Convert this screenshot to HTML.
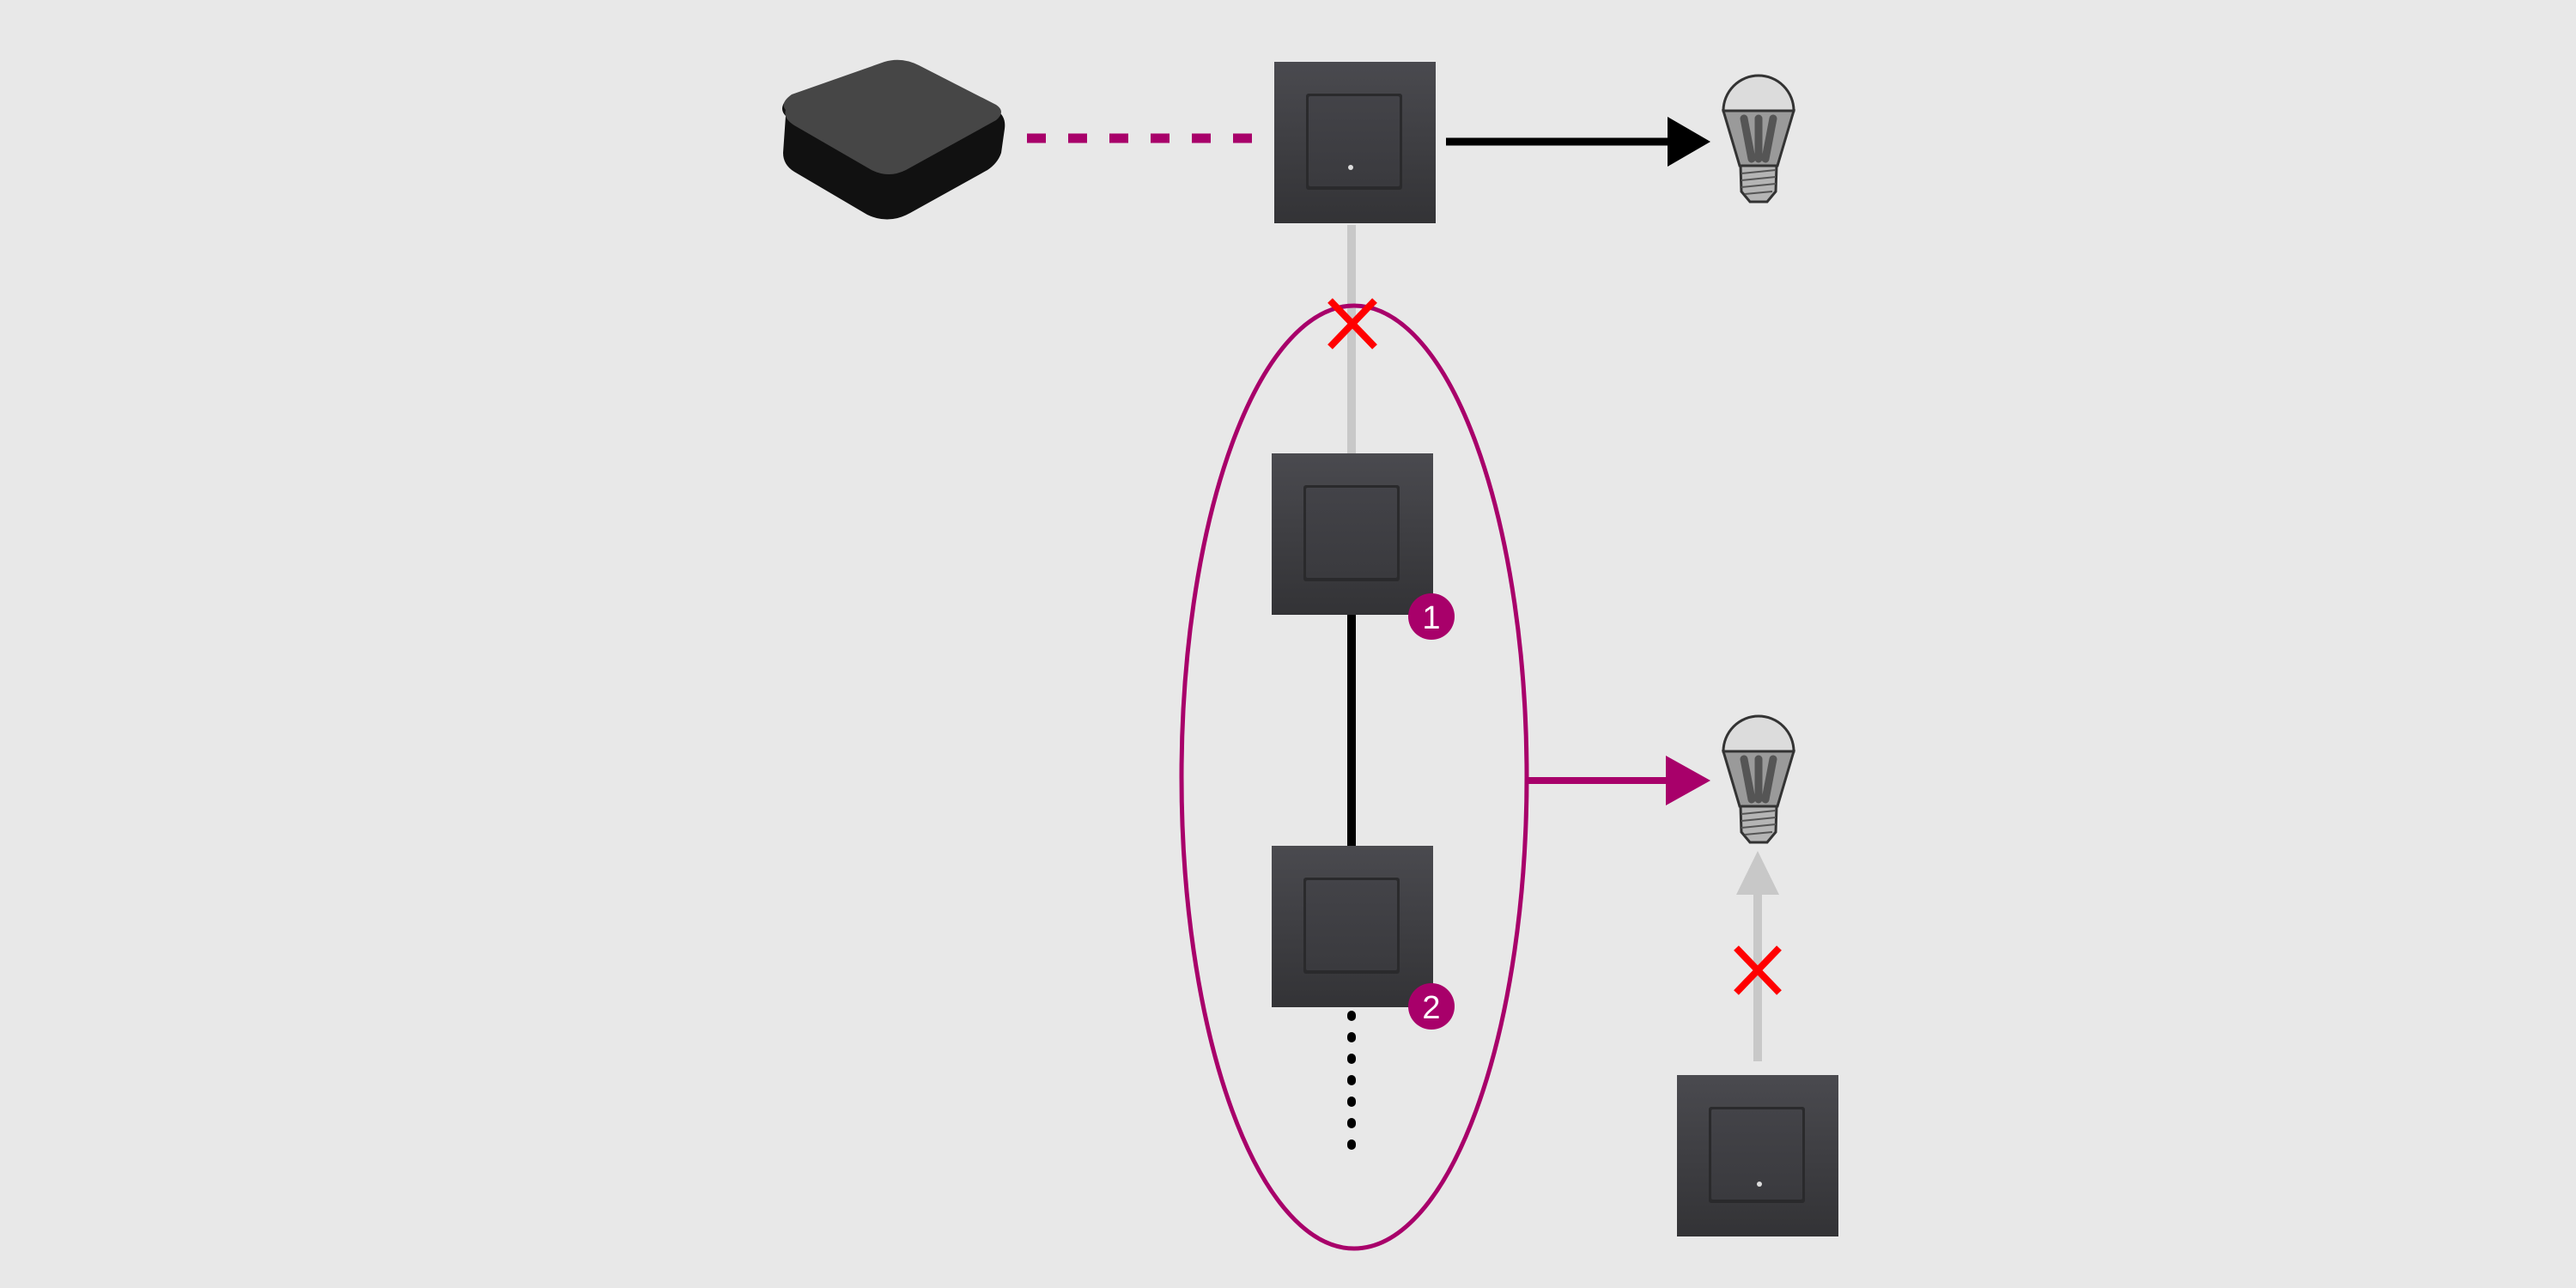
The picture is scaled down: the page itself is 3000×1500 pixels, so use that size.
<!DOCTYPE html>
<html><head><meta charset="utf-8"><style>
html,body{margin:0;padding:0;background:#e8e8e8;}
svg{display:block;}
</style></head><body>
<svg width="3000" height="1500" viewBox="0 0 3000 1500" xmlns="http://www.w3.org/2000/svg">
<defs>
<linearGradient id="plate" x1="0" y1="0" x2="0" y2="1">
<stop offset="0" stop-color="#4a4a4f"/><stop offset="1" stop-color="#333336"/>
</linearGradient>
<linearGradient id="rock" x1="0" y1="0" x2="0" y2="1">
<stop offset="0" stop-color="#434348"/><stop offset="1" stop-color="#3a3a3e"/>
</linearGradient>
<g id="bulb">
<path d="M-41,41 A41,41 0 0 1 41,41 Z" fill="#dcdcdc" stroke="#333" stroke-width="3"/>
<path d="M-41,41 L41,41 L22,105 L-22,105 Z" fill="#9a9a9a" stroke="#333" stroke-width="3"/>
<path d="M-17,50 L-8,97 M0,50 L0,97 M17,50 L8,97" stroke="#555" stroke-width="9" stroke-linecap="round"/>
<path d="M-21,105 L21,105 L20,135 L10,147 L-10,147 L-20,135 Z" fill="#b5b5b5" stroke="#333" stroke-width="3"/>
<path d="M-20,114 L20,110 M-20,122 L20,118 M-20,130 L20,126 M-16,138 L16,135" stroke="#555" stroke-width="2"/>
</g>
<g id="switch">
<rect x="0" y="0" width="188" height="188" fill="url(#plate)"/>
<rect x="37" y="37" width="112" height="112" rx="3" fill="#2a2a2c"/>
<rect x="40" y="40" width="106" height="105" rx="2" fill="url(#rock)"/>
</g>
</defs>
<rect width="3000" height="1500" fill="#e8e8e8"/>

<!-- hub -->
<g>
<path d="M915,135 Q905,125 920,112 L1030,74 Q1050,68 1070,78 L1160,128 Q1172,135 1170,150 L1166,178 Q1162,190 1150,198 L1060,248 Q1035,262 1010,250 L925,200 Q912,192 912,178 Z" fill="#111"/>
<path d="M915,128 Q908,120 922,110 L1030,72 Q1050,66 1070,76 L1160,122 Q1172,130 1160,140 L1055,198 Q1035,208 1015,198 L925,146 Q912,138 915,128 Z" fill="#464646"/>
</g>
<!-- dashed magenta -->
<line x1="1196" y1="161" x2="1464" y2="161" stroke="#a8006a" stroke-width="11" stroke-dasharray="22,26"/>

<!-- top switch -->
<use href="#switch" x="1484" y="72"/>
<circle cx="1573" cy="195" r="3" fill="#ddd"/>
<!-- black arrow -->
<line x1="1684" y1="165" x2="1950" y2="165" stroke="#000" stroke-width="9"/>
<polygon points="1942,136 1992,165 1942,194" fill="#000"/>
<use href="#bulb" x="2048" y="88"/>

<!-- grey line to switch 1 -->
<line x1="1574" y1="262" x2="1574" y2="528" stroke="#c8c8c8" stroke-width="10"/>
<!-- ellipse -->
<ellipse cx="1577" cy="905" rx="201" ry="549" fill="none" stroke="#a8006a" stroke-width="5"/>
<!-- red X top -->
<path d="M1549,350 L1601,404 M1601,350 L1549,404" stroke="#ff0000" stroke-width="8"/>

<!-- switch 1 -->
<use href="#switch" x="1481" y="528"/>
<line x1="1574" y1="716" x2="1574" y2="985" stroke="#000" stroke-width="10"/>
<circle cx="1667" cy="718" r="27" fill="#a8006a"/>
<text x="1667" y="732" font-family="Liberation Sans, sans-serif" font-size="38" fill="#fff" text-anchor="middle">1</text>

<!-- switch 2 -->
<use href="#switch" x="1481" y="985"/>
<line x1="1574" y1="1182" x2="1574" y2="1352" stroke="#000" stroke-width="10" stroke-linecap="round" stroke-dasharray="2,23"/>
<circle cx="1667" cy="1172" r="27" fill="#a8006a"/>
<text x="1667" y="1186" font-family="Liberation Sans, sans-serif" font-size="38" fill="#fff" text-anchor="middle">2</text>

<!-- magenta arrow -->
<line x1="1779" y1="909" x2="1950" y2="909" stroke="#a8006a" stroke-width="8"/>
<polygon points="1940,880 1992,909 1940,938" fill="#a8006a"/>
<use href="#bulb" x="2048" y="834"/>

<!-- grey arrow -->
<line x1="2047" y1="1236" x2="2047" y2="1030" stroke="#c8c8c8" stroke-width="10"/>
<polygon points="2022,1042 2047,991 2072,1042" fill="#c8c8c8"/>
<path d="M2022,1104 L2072,1156 M2072,1104 L2022,1156" stroke="#ff0000" stroke-width="8"/>

<!-- switch 3 -->
<use href="#switch" x="1953" y="1252"/>
<circle cx="2049" cy="1379" r="3" fill="#ddd"/>
</svg>
</body></html>
